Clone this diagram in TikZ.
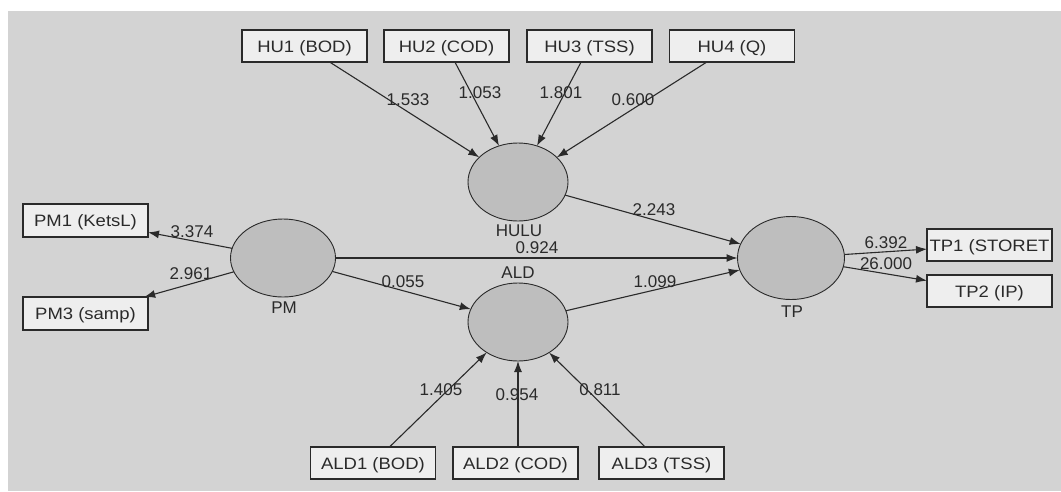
\documentclass[tikz,border=0pt]{standalone}
\usepackage{fontspec}
\setmainfont{Liberation Sans}
\newfontfamily\boxfont{Liberation Sans}[FakeStretch=1.12]
\usetikzlibrary{arrows.meta,shapes.geometric}
\definecolor{panel}{HTML}{D3D3D3}
\definecolor{boxfill}{HTML}{EEEEEE}
\definecolor{latfill}{HTML}{BEBEBE}
\definecolor{ink}{HTML}{2A2A2A}
\begin{document}
\begin{tikzpicture}[x=1pt,y=-1pt,
  every node/.style={text=ink},
  indicator/.style={draw=ink, line width=1.3pt, fill=boxfill,
    minimum width=125pt, minimum height=32pt, inner sep=0pt, outer sep=0pt,
    text height=12pt, text depth=0pt, font=\boxfont\fontsize{16.5}{20}\selectfont},
  latent/.style={ellipse, draw=ink, line width=0.9pt, fill=latfill,
    inner sep=0pt, outer sep=0pt},
  link/.style={draw=ink, line width=1.1pt, -{Latex[length=11pt,width=8pt]}},
  coef/.style={inner sep=0pt, text depth=0pt, font=\fontsize{17}{20}\selectfont},
]
% canvas
\useasboundingbox (0,0) rectangle (1061,491);
\fill[panel] (8,11) rectangle (1061,491);

% latent variables
\node[latent, minimum width=100pt, minimum height=78pt] (HULU) at (518,182) {};
\node[latent, minimum width=100pt, minimum height=78pt] (ALD)  at (518,322) {};
\node[latent, minimum width=105pt, minimum height=78pt] (PM)   at (283,258) {};
\node[latent, minimum width=107pt, minimum height=83pt] (TP)   at (791,258) {};

% indicators
\node[indicator] (HU1) at (304.5,46) {HU1 (BOD)};
\node[indicator] (HU2) at (446.5,46) {HU2 (COD)};
\node[indicator] (HU3) at (589.5,46) {HU3 (TSS)};
\node[indicator] (HU4) at (732,46)   {HU4 (Q)};
\node[indicator, minimum height=33pt] (PM1) at (85.5,220.5) {PM1 (KetsL)};
\node[indicator, minimum height=33pt] (PM3) at (85.5,313.5) {PM3 (samp)};
\node[indicator] (TP1) at (989.5,245) {TP1 (STORET};
\node[indicator] (TP2) at (989.5,291) {TP2 (IP)};
\node[indicator] (ALD1) at (373,463)   {ALD1 (BOD)};
\node[indicator] (ALD2) at (515.5,463) {ALD2 (COD)};
\node[indicator] (ALD3) at (661.5,463) {ALD3 (TSS)};

% connectors
\draw[link] (HU1) -- (HULU);
\draw[link] (HU2) -- (HULU);
\draw[link] (HU3) -- (HULU);
\draw[link] (HU4) -- (HULU);
\draw[link] (PM) -- (PM1);
\draw[link] (PM) -- (PM3);
\draw[link] (PM) -- (TP);
\draw[link] (PM) -- (ALD);
\draw[link] (HULU) -- (TP);
\draw[link] (ALD) -- (TP);
\draw[link] (TP) -- (TP1);
\draw[link] (TP) -- (TP2);
\draw[link] (ALD1) -- (ALD);
\draw[link] (ALD2.north -| ALD.south) -- (ALD);
\draw[link] (ALD3) -- (ALD);

% latent variable names
\node[coef] (nHULU) at (519,231) {HULU};
\node[coef] (nALD)  at (518,273) {ALD};
\node[coef] (nPM)   at (284,308) {PM};
\node[coef] (nTP)   at (792,312) {TP};

% path coefficients
\node[coef] (c1) at (408,100) {1.533};
\node[coef] (c2) at (480,93)  {1.053};
\node[coef] (c3) at (561,93)  {1.801};
\node[coef] (c4) at (633,100) {0.600};
\node[coef] (c5) at (654,210) {2.243};
\node[coef] (c6) at (537,248) {0.924};
\node[coef] (c7) at (403,282) {0.055};
\node[coef] (c8) at (655,282) {1.099};
\node[coef] (c9) at (192,232) {3.374};
\node[coef] (c10) at (191,274) {2.961};
\node[coef] (c11) at (886,243) {6.392};
\node[coef] (c12) at (886,264) {26.000};
\node[coef] (c13) at (441,390) {1.405};
\node[coef] (c14) at (517,395) {0.954};
\node[coef] (c15) at (600,390) {0.811};
\end{tikzpicture}
\end{document}
